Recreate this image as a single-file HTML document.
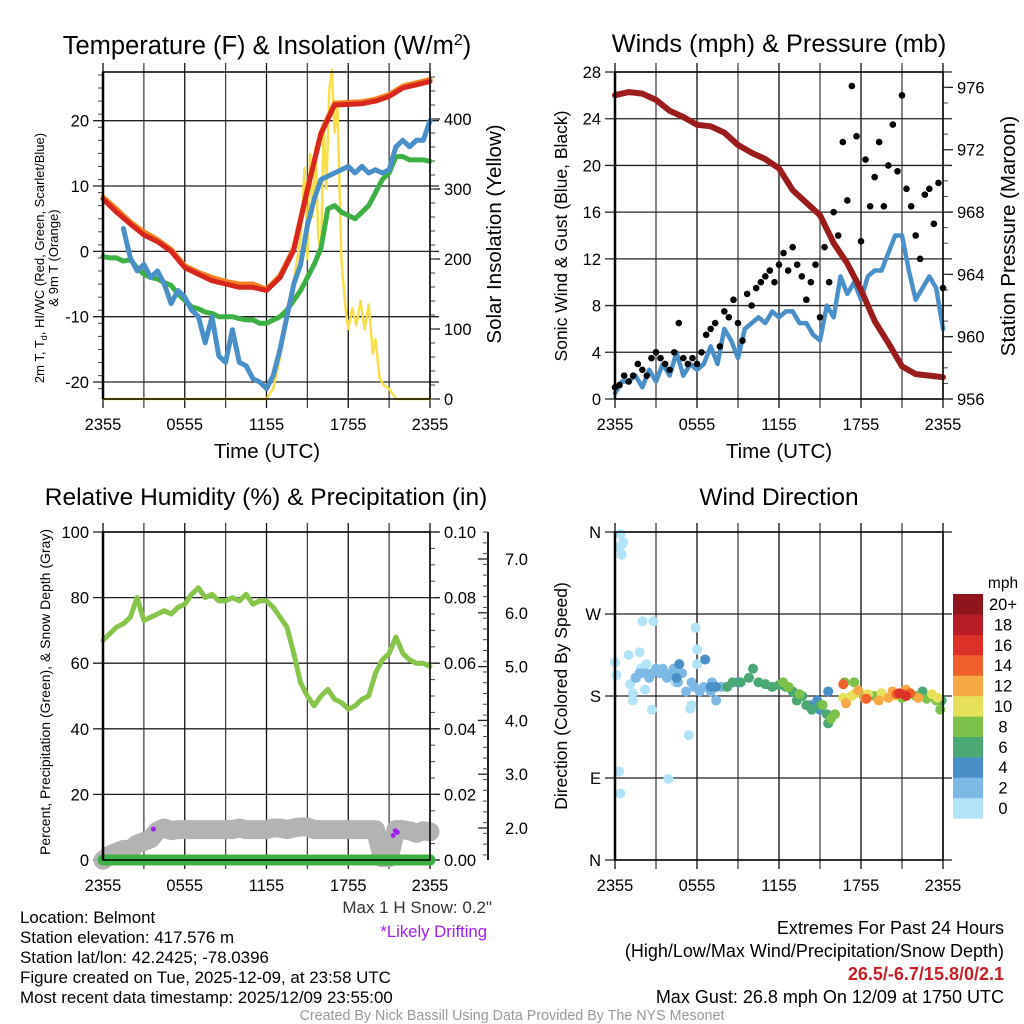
<!DOCTYPE html>
<html><head><meta charset="utf-8"><title>Belmont Mesonet Meteogram</title>
<style>
html,body{margin:0;padding:0;background:#fff;}
svg{display:block;font-family:"Liberation Sans",Arial,sans-serif;}
</style></head>
<body>
<svg id="fig" width="1024" height="1024" viewBox="0 0 1024 1024" xmlns="http://www.w3.org/2000/svg">
<rect x="0" y="0" width="1024" height="1024" fill="#fff"/>
<text x="267" y="54" font-size="25.5" text-anchor="middle">Temperature (F) &amp; Insolation (W/m<tspan dy="-9" font-size="16">2</tspan><tspan dy="9">)</tspan></text>
<text x="779" y="52" font-size="25.3" text-anchor="middle">Winds (mph) &amp; Pressure (mb)</text>
<text x="266" y="505" font-size="24.5" text-anchor="middle">Relative Humidity (%) &amp; Precipitation (in)</text>
<text x="779" y="505" font-size="24.5" text-anchor="middle">Wind Direction</text>
<text x="267" y="458" font-size="20.5" text-anchor="middle">Time (UTC)</text>
<text x="779" y="458" font-size="20.5" text-anchor="middle">Time (UTC)</text>
<text transform="translate(44,258) rotate(-90)" font-size="13" text-anchor="middle">2m T, T<tspan font-size="9" dy="3">d</tspan><tspan dy="-3">, HI/WC (Red, Green, Scarlet/Blue)</tspan></text>
<text transform="translate(58,258) rotate(-90)" font-size="13" text-anchor="middle">&amp; 9m T (Orange)</text>
<text transform="translate(501,234) rotate(-90)" font-size="20.5" text-anchor="middle">Solar Insolation (Yellow)</text>
<text transform="translate(567,236) rotate(-90)" font-size="17.5" text-anchor="middle">Sonic Wind &amp; Gust (Blue, Black)</text>
<text transform="translate(1015,236) rotate(-90)" font-size="20.5" text-anchor="middle">Station Pressure (Maroon)</text>
<text transform="translate(50,692) rotate(-90)" font-size="14" text-anchor="middle">Percent, Precipitation (Green), &amp; Snow Depth (Gray)</text>
<text transform="translate(567,696) rotate(-90)" font-size="17.5" text-anchor="middle">Direction (Colored By Speed)</text>
<text x="492" y="913" font-size="17" text-anchor="end" fill="#333">Max 1 H Snow: 0.2"</text>
<text x="487" y="937" font-size="16.7" text-anchor="end" fill="#a020f0">*Likely Drifting</text>
<g font-size="16.9" fill="#000">
<text x="20" y="923">Location: Belmont</text>
<text x="20" y="943">Station elevation: 417.576 m</text>
<text x="20" y="963">Station lat/lon: 42.2425; -78.0396</text>
<text x="20" y="983">Figure created on Tue, 2025-12-09, at 23:58 UTC</text>
<text x="20" y="1003">Most recent data timestamp: 2025/12/09 23:55:00</text>
</g>
<g font-size="18" text-anchor="end">
<text x="1004" y="934">Extremes For Past 24 Hours</text>
<text x="1004" y="957">(High/Low/Max Wind/Precipitation/Snow Depth)</text>
<text x="1004" y="980" font-weight="bold" fill="#c81e28">26.5/-6.7/15.8/0/2.1</text>
<text x="1004" y="1003">Max Gust: 26.8 mph On 12/09 at 1750 UTC</text>
</g>
<text x="512" y="1020" font-size="14.3" text-anchor="middle" fill="#999">Created By Nick Bassill Using Data Provided By The NYS Mesonet</text>
<text x="1003" y="588" font-size="15.5" text-anchor="middle">mph</text>
</svg>
<script>
// ---------- DATA ----------
const timeLabels = ["2355","0555","1155","1755","2355"];
const hourly = [0,1,2,3,4,5,6,7,8,9,10,11,12,13,14,15,16,17,18,19,20,21,22,23,24];
const halfHourly = [0,0.5,1,1.5,2,2.5,3,3.5,4,4.5,5,5.5,6,6.5,7,7.5,8,8.5,9,9.5,10,10.5,11,11.5,12,12.5,13,13.5,14,14.5,15,15.5,16,16.5,17,17.5,18,18.5,19,19.5,20,20.5,21,21.5,22,22.5,23,23.5,24];
const tempTicks = [-20,-10,0,10,20];
const solarTicks = [0,100,200,300,400];
const temp2m = [8,6,4.2,2.5,1.5,0,-2.5,-3.5,-4.5,-5,-5.5,-5.5,-6,-4,0.2,9.4,18,22.4,22.5,22.6,23,23.7,25,25.5,26];
const temp9m = [8.3,6.5,4.5,3,1.8,0.3,-2.2,-3.2,-4,-4.6,-5,-5,-5.8,-3.7,0.5,9.6,18.2,22.7,22.8,22.9,23.3,24,25.3,25.8,26.3];
const dewGreen = [-0.8,-1,-1,-1.5,-1.3,-2.5,-3.5,-4,-4.2,-4.8,-5.2,-6.5,-7.5,-8.5,-8.8,-9.3,-9.5,-10,-10,-10,-10.3,-10.5,-10.5,-11,-11,-10.5,-10,-9,-7.5,-6,-4,-2,0.5,6.5,7,6,5.5,5,6,7,9,11,12,14.5,14.5,14,14,14,13.8];
const windChillBlue = [null,null,null,3.5,-1,-3,-2,-4,-3,-5,-8,-6,-7,-9,-10,-14,-10,-16,-17,-12,-17,-17.5,-19.5,-20,-21,-19,-15,-10,-5,-2,4,8,11,11.5,12,12.5,13,12,13,12,12.5,12,12.5,16,17,16,17,17,20];
const solarHours = [0,12,12.5,13,13.5,14,14.5,14.8,15,15.2,15.4,15.6,15.8,16,16.2,16.4,16.6,16.8,17,17.2,17.5,17.8,18,18.3,18.6,18.9,19.2,19.5,19.8,20,20.3,20.6,21,21.5,24];
const solarValues = [0,0,15,60,120,170,230,330,200,350,260,360,230,210,390,300,440,470,380,420,200,130,100,130,105,140,100,135,65,85,30,20,15,0,0];
const windTicks = [0,4,8,12,16,20,24,28];
const pressTicks = [956,960,964,968,972,976];
const pressure = [975.5,975.7,975.6,975.2,974.5,974.1,973.6,973.5,973.1,972.3,971.8,971.4,970.8,969.4,968.6,967.8,966,964.7,963,961,959.6,958.1,957.6,957.5,957.4];
const windSpeed = [0.5,1.5,1.5,2,1,2.5,1.5,3,2,4,2,3,2.5,3,4.5,3,6,5,3.5,6,6.5,7,6.5,7.5,7,7.5,7.5,6.5,6.5,5.5,5,8,7,10.5,9,10,8.5,10.5,11,11,12.5,14,14,11,8.5,9.5,10.5,9.5,6];
const gustHours = [0,0.33,0.67,1,1.33,1.67,2,2.33,2.67,3,3.33,3.67,4,4.33,4.67,5,5.33,5.67,6,6.33,6.67,7,7.33,7.67,8,8.33,8.67,9,9.33,9.67,10,10.33,10.67,11,11.33,11.67,12,12.33,12.67,13,13.33,13.67,14,14.33,14.67,15,15.33,15.67,16,16.33,16.67,17,17.33,17.67,18,18.33,18.67,19,19.33,19.67,20,20.33,20.67,21,21.33,21.67,22,22.33,22.67,23,23.33,23.67,24];
const gustValues = [1,1.2,2,1.5,2,3,2.5,2,3.5,4,3.5,3,2.5,4,6.5,3.5,3,3.5,3,4,5.5,6,6.5,4.5,7.5,7,8.5,6.5,5,9,8,9.5,10,10.5,11,10,11.5,12.5,11,13,11.5,10.5,8.5,10,11.5,7,13,10,16,14,22,17,26.8,22.5,13.5,20.5,16.5,19,22,16.5,20,23.5,19.5,26,18,16.5,14,12,17.5,18,15,18.5,9.5];
const rhTicks = [0,20,40,60,80,100];
const precipTicks = ["0.00","0.02","0.04","0.06","0.08","0.10"];
const snowTicks = [2,3,4,5,6,7];
const relHumidity = [67,69,71,72,74,80,73,74,75,76,75,77,78,81,83,80,81,79,79,80,79,81,78,79,79,77,74,71,63,54,50,47,50,52,49,48,46,47,49,50,57,61,63,68,63,61,60,60,59];
const precipitation = [0,0,0,0,0,0,0,0,0,0,0,0,0,0,0,0,0,0,0,0,0,0,0,0,0,0,0,0,0,0,0,0,0,0,0,0,0,0,0,0,0,0,0,0,0,0,0,0,0];
const snowDepth = [1.4,1.5,1.55,1.6,1.6,1.7,1.75,1.8,1.95,2.0,1.95,1.97,1.97,1.97,1.97,1.97,1.97,1.97,1.97,1.97,2.0,1.97,1.97,1.97,1.97,2.0,2.0,1.97,2.0,2.02,2.02,1.97,1.97,1.97,1.97,1.97,1.97,1.97,1.97,1.97,1.97,1.45,1.45,1.97,1.97,1.95,1.9,1.95,1.93];
const driftHours = [3.7,21.3,21.45,21.6];
const driftDepth = [1.98,1.86,1.95,1.92];
const dirLabels = ["N","E","S","W","N"];
const dirHours = [0.4,0.6,0.3,0.5,0.5,0.0,0.1,0.3,0.4,2.0,2.8,1.0,1.1,1.3,1.3,2.2,2.7,1.8,1.9,3.9,5.9,6.0,6.0,5.5,5.4,5.6,4.4,1.6,2.3,
 1.5,1.8,2.2,2.5,2.7,3.0,3.3,3.5,3.8,4.1,4.3,4.6,4.9,5.2,5.6,5.8,6.2,6.5,7.0,7.4,7.8,7.1,
 4.7,4.5,6.6,7.4,7.0,9.0,14.8,15.0,14.3,15.6,
 8.2,8.6,9.2,9.8,10.1,10.5,11.0,11.5,12.0,12.5,13.0,13.3,13.7,14.0,14.4,15.0,15.6,15.5,22.5,23.9,
 12.3,12.7,13.5,15.2,16.1,15.8,16.8,17.5,18.2,19.0,21.0,22.0,22.8,23.5,23.8,
 16.7,17.3,17.6,18.5,19.5,20.5,21.5,23.2,23.6,
 16.9,18.3,19.3,20.0,20.3,21.3,22.2,17.8,
 16.7,18.4,20.6,21.1,21.6,21.3,20.8];
const dirDegrees = [358,349,343,346,335,217,203,97,73,262,262,225,193,183,175,187,165,228,210,89,255,231,215,166,137,170,195,200,215,
 200,205,205,200,205,210,205,210,200,205,210,195,205,185,195,190,185,190,185,175,190,195,
 215,200,220,190,190,195,175,165,170,185,
 190,195,195,200,210,195,193,190,192,190,185,175,180,170,165,170,150,160,185,175,
 195,190,182,170,160,155,195,195,180,180,178,180,177,175,165,
 178,180,183,182,183,180,182,182,178,
 172,177,175,178,185,187,178,186,
 193,177,182,182,183,180,183];
const dirSpeeds = [1,1,1,1,1,1,1,1,1,1,1,1,1,1,1,1,1,1,1,1,1,1,1,1,1,1,1,1,1,
 3,3,3,3,3,3,3,3,3,3,3,3,3,3,3,3,3,3,3,3,3,3,
 5,5,5,5,5,5,5,5,5,5,
 7,7,7,7,7,7,7,7,7,7,7,7,7,7,7,7,7,7,7,7,
 9,9,9,9,9,9,9,9,9,9,9,9,9,9,9,
 11,11,11,11,11,11,11,11,11,
 13,13,13,13,13,13,13,13,
 15,15,15,15,15,17,17];
const cbarLabels = ["0","2","4","6","8","10","12","14","16","18","20+"];
const cbarColors = ["#b3e3f7","#7db9e5","#4a90c8","#4aa874","#7cc24a","#e6e05a","#f6a944","#f0602a","#dc3128","#b81c25","#8f141b"];

// ---------- HELPERS ----------
const NS="http://www.w3.org/2000/svg";
const svg=document.getElementById('fig');
function mk(tag,attrs,parent){const e=document.createElementNS(NS,tag);for(const k in attrs)e.setAttribute(k,attrs[k]);(parent||svg).appendChild(e);return e;}
function lin(d0,d1,r0,r1){return v=>r0+(v-d0)/(d1-d0)*(r1-r0);}

const P1={x0:103,x1:430,y0:72,y1:399};
const P2={x0:615,x1:943,y0:72,y1:399};
const P3={x0:103,x1:430,y0:532,y1:860};
const P4={x0:615,x1:943,y0:532,y1:860};
const xs1=lin(0,24,P1.x0,P1.x1), xs2=lin(0,24,P2.x0,P2.x1);
const yT=lin(-20,20,382,120.7), yS=lin(0,400,399,119);
const yW=lin(0,28,399,72), yP=lin(956,976,399,87.4);
const yR=lin(0,100,860,532), yPr=lin(0,0.1,860,532), ySn=lin(2,7,828,559);
const yD=lin(0,360,860,532);

function grid(P,xs,name){
  const g=mk('g',{});
  
  
  for(let h=0;h<=24;h+=3){
    const l=mk('line',{x1:xs(h),x2:xs(h),y1:P.y0-9,y2:P.y1+9,stroke:(h%6==0?'#111':'#444'),'stroke-width':1.3},g);
    
    
  }
  timeLabels.forEach((t,i)=>{
    const tx=mk('text',{x:xs(i*6),y:P.y1+31,'font-size':16.5,'text-anchor':'middle'},g);
    tx.textContent=t;
    
    
  });
  return g;
}
function hgrid(P,vals,ys,labels,side,name){
  const g=mk('g',{});
  
  
  vals.forEach((v,i)=>{
    const y=ys(v);
    if(side==='left'){
      const l=mk('line',{x1:P.x0-10,x2:P.x1+9,y1:y,y2:y,stroke:'#222','stroke-width':1.3},g);
      
      
    } else {
      const l=mk('line',{x1:P.x1,x2:P.x1+10,y1:y,y2:y,stroke:'#222','stroke-width':1.3},g);
      
      
    }
    const tx=mk('text',{x:side==='left'?P.x0-14:P.x1+14,y:y+6,'font-size':16.5,'text-anchor':side==='left'?'end':'start'},g);
    tx.textContent=labels[i];
    
    
  });
  return g;
}
function minor(x,y0,y1,step,dir){
  for(let y=y0;y<=y1+0.1;y+=step){
    const l=mk('line',{x1:x,x2:x+dir*5,y1:y,y2:y,stroke:'#444','stroke-width':1});
    
    
  }
}
function frame(P,name){
  const r=mk('rect',{x:P.x0,y:P.y0,width:P.x1-P.x0,height:P.y1-P.y0,fill:'none',stroke:'#000','stroke-width':1.5});
  
  
  const l=mk('line',{x1:P.x0,x2:P.x0,y1:P.y0,y2:P.y1,stroke:'#000','stroke-width':2.5});
  
  
}
function pathFrom(hrs,vals,xs,ys){
  let d='',pen=false;
  for(let i=0;i<hrs.length;i++){
    const v=vals[i];
    if(v===null||v===undefined){pen=false;continue;}
    d+=(pen?'L':'M')+xs(hrs[i]).toFixed(1)+','+ys(v).toFixed(1);pen=true;
  }
  return d;
}
function series(hrs,vals,xs,ys,color,w,name){
  const p=mk('path',{d:pathFrom(hrs,vals,xs,ys),fill:'none',stroke:color,'stroke-width':w,'stroke-linejoin':'round','stroke-linecap':'round'});
  
  
  return p;
}

// ---------- PANEL 1 ----------
grid(P1,xs1,'temp');
hgrid(P1,tempTicks,yT,tempTicks.map(String),'left','temp-y-axis');
hgrid(P1,solarTicks,yS,solarTicks.map(String),'right','solar-y-axis');
minor(P1.x1,yS(460),yS(0),14,1);
minor(P1.x0-5,yT(27),yT(-22),13.07,1);
series(solarHours,solarValues,xs1,yS,'#f8df4a',2.5,'solar-insolation-line');
series(halfHourly,dewGreen,xs1,yT,'#3cb043',5,'dewpoint-line');
series(halfHourly,windChillBlue,xs1,yT,'#4a90c8',5,'wind-chill-line');
series(hourly,temp9m,xs1,yT,'#f4801f',5,'temp-9m-line');
series(hourly,temp2m,xs1,yT,'#d7261e',5,'temp-2m-line');
frame(P1,'temp');

// ---------- PANEL 2 ----------
grid(P2,xs2,'wind');
hgrid(P2,windTicks,yW,windTicks.map(String),'left','wind-y-axis');
hgrid(P2,pressTicks,yP,pressTicks.map(String),'right','pressure-y-axis');
minor(P2.x1,yP(977),yP(956),15.58,1);
series(halfHourly,windSpeed,xs2,yW,'#4a90c8',4.5,'wind-speed-line');
gustHours.forEach((h,i)=>{
  const c=mk('circle',{cx:xs2(h),cy:yW(gustValues[i]),r:3.3,fill:'#000'});
  
  
});
series(hourly,pressure,xs2,yP,'#9b1c1c',6,'pressure-line');
frame(P2,'wind');

// ---------- PANEL 3 ----------
grid(P3,xs1,'humidity');
hgrid(P3,rhTicks,yR,rhTicks.map(String),'left','rh-y-axis');
hgrid(P3,[0,0.02,0.04,0.06,0.08,0.1],yPr,precipTicks,'right','precip-y-axis');
minor(P3.x1,yR(100),yR(0),16.4,1);
(function(){
  const l=mk('line',{x1:488,x2:488,y1:532,y2:860,stroke:'#222','stroke-width':2});
  
  
  snowTicks.forEach(v=>{
    const t=mk('line',{x1:478,x2:488,y1:ySn(v),y2:ySn(v),stroke:'#222','stroke-width':1.3});
    
    
    const tx=mk('text',{x:505,y:ySn(v)+6,'font-size':16.5});
    tx.textContent=v.toFixed(1);
    
    
  });
  minor(483,ySn(7.5),ySn(1.4),10.76,1);
})();
series(halfHourly,snowDepth,xs1,ySn,'#b3b3b3',19,'snow-depth-line');
series(halfHourly,relHumidity,xs1,yR,'#86c54a',5,'relative-humidity-line');
series(halfHourly,precipitation,xs1,yPr,'#3cb043',11,'precipitation-line');
driftHours.forEach((h,i)=>{
  const c=mk('circle',{cx:xs1(h),cy:ySn(driftDepth[i]),r:2.5,fill:'#a020f0'});
  
  
});
frame(P3,'humidity');

// ---------- PANEL 4 ----------
grid(P4,xs2,'direction');
hgrid(P4,[0,90,180,270,360],yD,dirLabels,'left','direction-y-axis');
dirHours.forEach((h,i)=>{
  const bin=Math.min(10,Math.floor(dirSpeeds[i]/2));
  const c=mk('circle',{cx:xs2(h),cy:yD(dirDegrees[i]),r:5,fill:cbarColors[bin]});
  
  
});
frame(P4,'direction');
cbarLabels.forEach((lab,i)=>{
  const y=594+(10-i)*20.4;
  const r=mk('rect',{x:953,y:y,width:30,height:20.6,fill:cbarColors[i]});
  
  
  const t=mk('text',{x:1003,y:y+16,'font-size':16.5,'text-anchor':'middle'});
  t.textContent=lab;
  
  
});
</script>
</body></html>
